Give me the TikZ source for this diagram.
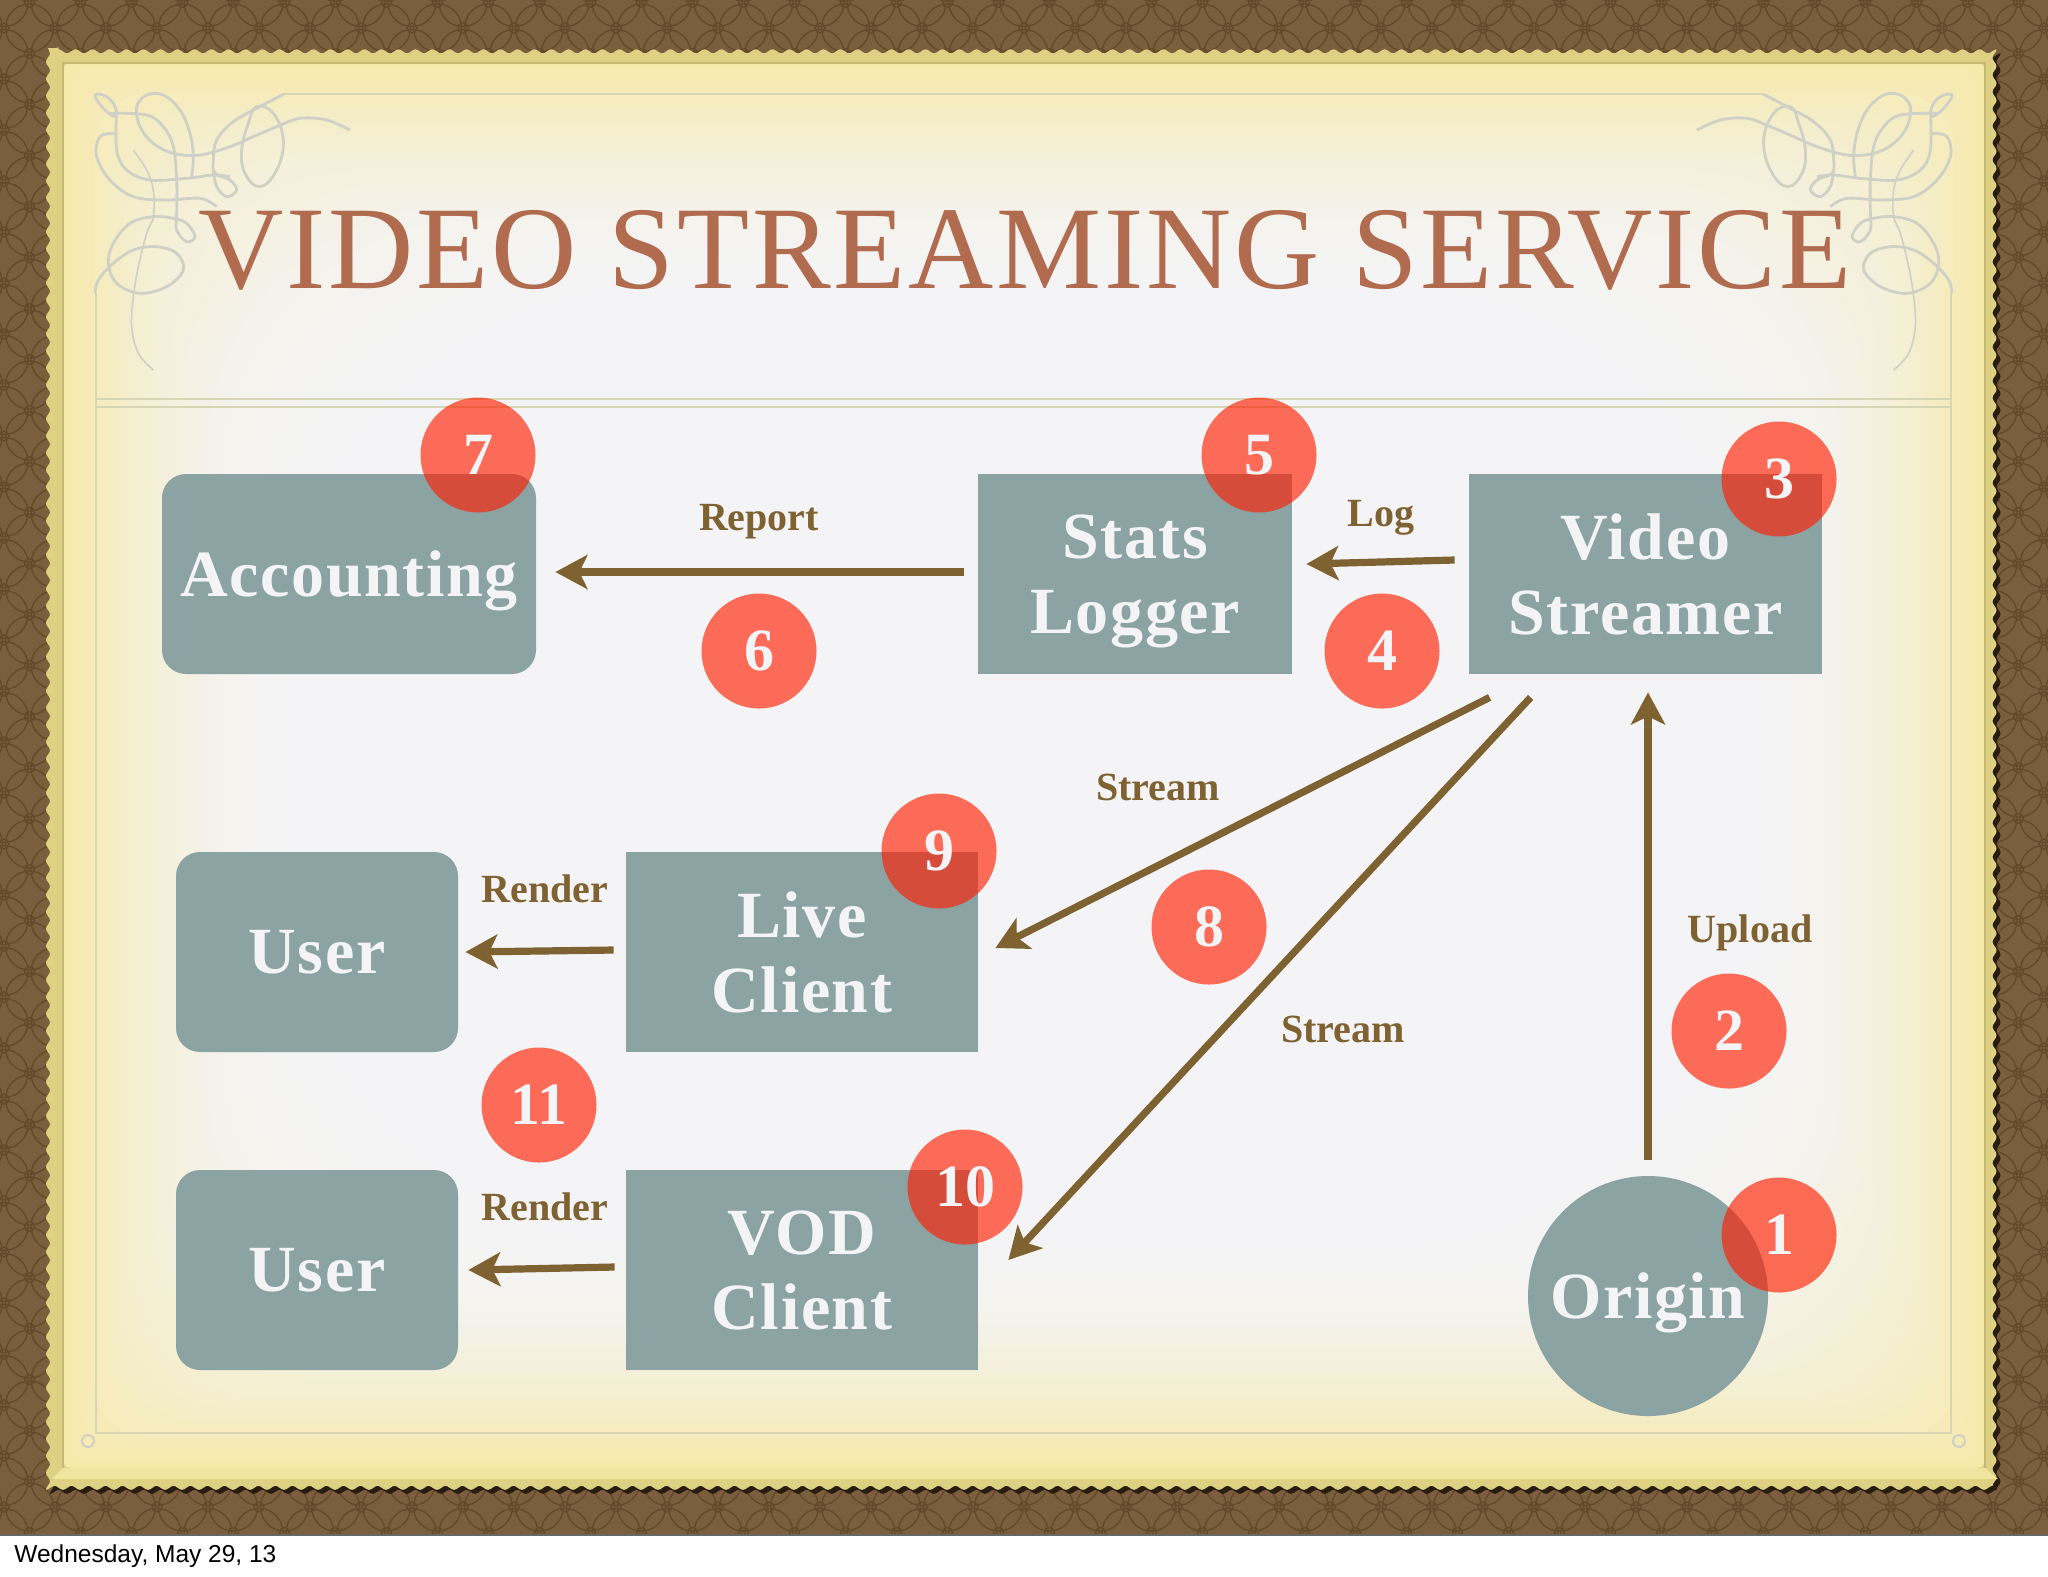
\documentclass[tikz,border=0pt]{standalone}
\usepackage{fontspec}
\setmainfont{Liberation Serif}
\newfontfamily\datefont{Liberation Sans}
\usetikzlibrary{arrows.meta,decorations.pathmorphing}
\definecolor{framebrown}{HTML}{7A5E3D}
\definecolor{latticebrown}{HTML}{64492A}
\definecolor{goldedge}{HTML}{DFD183}
\definecolor{goldlow}{HTML}{F0E4A0}
\definecolor{paperyellow}{HTML}{F6E9AA}
\definecolor{paperwhite}{HTML}{F4F4F6}
\definecolor{rulecolor}{HTML}{D6D6B4}
\definecolor{curlcolor}{HTML}{CFD0C6}
\definecolor{titlecolor}{HTML}{B16B4E}
\definecolor{boxcolor}{HTML}{8BA3A3}
\definecolor{badgered}{HTML}{FF1E00}
\definecolor{arrowbrown}{HTML}{7F6232}
\tikzset{
  squarebox/.style={fill=boxcolor, text=paperwhite, align=center, inner sep=0pt, font=\bfseries\fontsize{33}{37.5}\selectfont\addfontfeatures{LetterSpace=2.5}},
  roundbox/.style={squarebox, rounded corners=12pt},
  badge/.style={circle, fill=badgered, fill opacity=0.64, text opacity=1, text=paperwhite, minimum size=57.5pt, inner sep=0pt, font=\bfseries\fontsize{30}{30}\selectfont},
  flow/.style={-{Stealth[length=16pt,width=17pt,inset=4pt]}, line width=3.6pt, color=arrowbrown},
  flowlabel/.style={text=arrowbrown, inner sep=0pt, text depth=0pt, font=\bfseries\fontsize{20}{22}\selectfont},
  curl/.style={curlcolor, line width=1.4pt, line join=round},
  scallop/.style={decorate, decoration={snake, segment length=8.5pt, amplitude=1pt}}
}
\newcommand{\curlcorner}{
\draw[curl] plot[smooth, tension=0.6] coordinates {(850,283) (780,320) (700,365) (650,420) (640,480) (645,520) (690,540) (710,570) (680,590) (650,560) (640,510)};
\draw[curl] plot[smooth, tension=0.6] coordinates {(1050,390) (980,360) (900,355) (830,380) (760,410) (690,440) (600,465) (520,460) (460,430) (420,380) (410,320) (440,285) (490,285) (540,330) (570,400) (580,470) (575,530)};
\draw[curl] plot[smooth cycle, tension=0.7] coordinates {(770,320) (820,340) (850,420) (830,510) (780,560) (735,520) (725,450) (745,370)};
\draw[curl] plot[smooth cycle, tension=0.7] coordinates {(285,285) (320,290) (345,320) (345,350) (310,325)};
\draw[curl] plot[smooth, tension=0.6] coordinates {(330,340) (440,345) (490,380) (520,440) (530,540) (530,640) (530,690) (560,725) (585,710) (560,670) (520,655) (460,650) (390,670) (340,730) (325,790) (350,850) (420,880) (500,860) (550,810) (530,760) (470,740) (400,750) (340,790) (295,840) (285,880)};
\draw[curl] plot[smooth, tension=0.6] coordinates {(350,400) (300,410) (290,470) (330,540) (400,590) (500,600) (600,595) (650,620)};
\draw[curl] plot[smooth, tension=0.6] coordinates {(350,330) (350,450) (380,510) (450,540) (560,535) (640,525) (690,530)};
\draw[curl, line width=0.8pt] plot[smooth, tension=0.6] coordinates {(400,450) (440,510) (460,570) (460,650) (440,700) (415,800) (400,890) (395,980) (415,1060) (460,1110)};
}

\begin{document}
\begin{tikzpicture}[x=0.5pt,y=-0.5pt]
\useasboundingbox (0,0) rectangle (2048,1576);
%frame
\fill[framebrown] (0,0) rectangle (2048,1535);
\begin{scope}
\clip (0,0) rectangle (2048,1535);
\foreach \k in {-1,...,40} {
\foreach \m in {-1,...,29} {
\draw[latticebrown, line width=0.7pt] (29.5+51*\k,28+51*\m) circle (12pt);
\draw[latticebrown, line width=0.7pt] (4+51*\k,53.5+51*\m) circle (12pt);
\draw[latticebrown, line width=0.7pt] (4+51*\k,28+51*\m) circle (2.5pt);
\draw[latticebrown, line width=0.7pt] (29.5+51*\k,53.5+51*\m) circle (2.5pt);
}
}
\end{scope}
\draw[black!60, line width=1pt] (0,1535) -- (2048,1535);
\fill[black!60!latticebrown, scallop] (52,52) rectangle (2005,1486);
\fill[goldedge, scallop] (48,48) rectangle (2002,1482);
\fill[goldlow] (52,1479) -- (63,1468) -- (1985,1468) -- (1998,1479) -- cycle;
%paper
\foreach \i [evaluate=\i as \inset using \i*6, evaluate=\i as \mix using 100*(1-(1-\i/40)*(1-\i/40)), evaluate=\i as \corner using 4+\i*5] in {0,...,40} {
\fill[paperwhite!\mix!paperyellow, rounded corners=\corner pt] (63+\inset,63+\inset) rectangle (1985-\inset,1468-\inset);
}
\draw[goldedge!88!black, line width=1pt] (63,1468) -- (63,63) -- (1985,63) -- (1985,1468);
%rules
\draw[rulecolor, line width=0.8pt] (283,94) -- (1764,94);
\draw[rulecolor, line width=0.8pt] (96,293) -- (96,1433) -- (1951,1433) -- (1951,293);
\draw[rulecolor, line width=1pt] (96,399) -- (1951,399);
\draw[rulecolor, line width=1pt] (96,407) -- (1951,407);
\draw[curlcolor, line width=1pt] (88,1441) circle (3pt);
\draw[curlcolor, line width=1pt] (1959,1441) circle (3pt);
%corners
\begin{scope}[xscale=1/3,yscale=1/3]
\curlcorner
\end{scope}
\begin{scope}[shift={(2047,0)},xscale=-1/3,yscale=1/3]
\curlcorner
\end{scope}
%title
\node[text=titlecolor, inner sep=0pt, anchor=base, font=\fontsize{59}{59}\selectfont\addfontfeatures{LetterSpace=2.4}] (title) at (1025,288) {VIDEO STREAMING SERVICE};
%boxes
\node[roundbox, text depth=0pt, minimum width=187pt, minimum height=100pt] (accounting) at (349,574) {Accounting};
\node[squarebox, text depth=0pt, minimum width=157pt, minimum height=100pt] (stats) at (1135,574) {Stats\\Logger};
\node[squarebox, minimum width=176.5pt, minimum height=100pt] (video) at (1645.5,574) {Video\\Streamer};
\node[roundbox, minimum width=141pt, minimum height=100pt] (usera) at (317,952) {User};
\node[squarebox, minimum width=176pt, minimum height=100pt] (live) at (802,952) {Live\\Client};
\node[roundbox, minimum width=141pt, minimum height=100pt] (userb) at (317,1270) {User};
\node[squarebox, minimum width=176pt, minimum height=100pt] (vod) at (802,1270) {VOD\\Client};
\node[squarebox, circle, text depth=0pt, minimum size=120pt] (origin) at (1648,1296) {Origin};
%arrows
\draw[flow] ([shift={(-14,-2)}]stats.west) -- ([shift={(19,-2)}]accounting.east);
\draw[flow] ([shift={(-14,-14)}]video.west) -- ([shift={(14,-10)}]stats.east);
\draw[flow] ([shift={(0,-16)}]origin.north) -- ([shift={(2.5,18)}]video.south);
\draw[flow] ([shift={(21,23)}]video.south west) -- ([shift={(17,-4)}]live.east);
\draw[flow] ([shift={(62,23)}]video.south west) -- ([shift={(30,-10)}]vod.east);
\draw[flow] ([shift={(-12,-2)}]live.west) -- ([shift={(7,0)}]usera.east);
\draw[flow] ([shift={(-11,-3)}]vod.west) -- ([shift={(10,0)}]userb.east);
%labels
\node[flowlabel] (reportlabel) at (759,517) {Report};
\node[flowlabel] (loglabel) at (1381,513) {Log};
\node[flowlabel] (streamlabela) at (1158,787) {Stream};
\node[flowlabel] (streamlabelb) at (1343,1029) {Stream};
\node[flowlabel] (renderlabela) at (545,889) {Render};
\node[flowlabel] (renderlabelb) at (545,1207) {Render};
\node[flowlabel] (uploadlabel) at (1750,929) {Upload};
%badges
\node[badge] (badge1) at (1779,1235) {1};
\node[badge] (badge2) at (1729,1031) {2};
\node[badge] (badge3) at (1779,479) {3};
\node[badge] (badge4) at (1382,651) {4};
\node[badge] (badge5) at (1259,455) {5};
\node[badge] (badge6) at (759,651) {6};
\node[badge] (badge7) at (478,455) {7};
\node[badge] (badge8) at (1209,927) {8};
\node[badge] (badge9) at (939,851) {9};
\node[badge] (badge10) at (965,1187) {10};
\node[badge] (badge11) at (539,1105) {11};
%date
\node[anchor=base west, inner sep=0pt, font=\datefont\fontsize{12.25}{14}\selectfont] (date) at (14,1562) {Wednesday, May 29, 13};
\end{tikzpicture}
\end{document}
